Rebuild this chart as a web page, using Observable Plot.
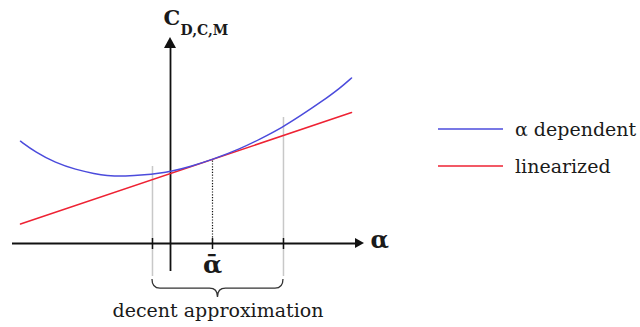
<!DOCTYPE html>
<html>
<head>
<meta charset="utf-8">
<script src="https://cdn.jsdelivr.net/npm/d3@7"></script>
<script src="https://cdn.jsdelivr.net/npm/@observablehq/plot@0.6"></script>
<style>
  html, body { margin: 0; padding: 0; background: #fff; }
  #wrap { position: relative; width: 640px; height: 327px; }
  #legend { position: absolute; left: 438px; top: 110px; font-family: "DejaVu Serif", serif; font-size: 19px; color: #1a1a1a; }
  .item { display: flex; align-items: center; height: 37px; }
  .swatch { display: block; margin-right: 12px; }
</style>
</head>
<body>
<div id="wrap"></div>
<script>
// Angle of attack α (ᾱ = 1) and coefficient C on arbitrary units
const alphaBlue = [-3.571, -3.214, -2.738, -2.262, -1.786, -1.548, -1.071, -0.595, -0.286, 0, 0.476, 1.0, 1.667, 2.143, 2.667, 3.095, 3.571, 4.048, 4.31];
const cBlue     = [2.923, 2.609, 2.306, 2.114, 1.991, 1.94, 1.914, 1.963, 2.009, 2.057, 2.2, 2.4, 2.71, 2.99, 3.32, 3.65, 4.03, 4.45, 4.73];

// Linearization about ᾱ
const alphaRed = [-3.571, 4.31];
const cRed     = [0.557, 3.743];

const alphaBar = 1;
const cAtBar = 2.4;

// Range of α where the linear model is a decent approximation
const approxBounds = [-0.429, 2.69];
const boundTops = [2.2, 3.6];
const boundBottom = -0.943;

// Axis extents: [start, arrow base, arrow tip]
const xAxisSpan = [-3.762, 4.405, 4.619];
const yAxisSpan = [-0.8, 5.571, 5.886];
const tickMarks = [-0.429, 1, 2.69];
const tickExtent = [0.143, -0.171];

// Brace levels below the axis
const braceLevels = [-1.03, -1.29, -1.54];

const labels = {
  xName: "α",
  yName: "C",
  ySub: "D,C,M",
  bar: "ᾱ",
  range: "decent approximation",
  blue: "α dependent",
  red: "linearized"
};

const blueColor = "#4b4bdc";
const redColor = "#ee2233";

const blueData = alphaBlue.map((a, i) => ({a, c: cBlue[i]}));
const redData = alphaRed.map((a, i) => ({a, c: cRed[i]}));

const serif = "DejaVu Serif";
const ink = "#1a1a1a";

function arrowHeads(index, {x, y}) {
  const g = d3.create("svg:g").attr("fill", "#111");
  const y0 = y(0), x0 = x(0);
  const xb = x(xAxisSpan[1]), xt = x(xAxisSpan[2]);
  g.append("path").attr("d", `M${xb},${y0 - 5}L${xt},${y0}L${xb},${y0 + 5}Z`);
  const yb = y(yAxisSpan[1]), yt = y(yAxisSpan[2]);
  g.append("path").attr("d", `M${x0 - 6},${yb}L${x0},${yt}L${x0 + 6},${yb}Z`);
  return g.node();
}

function brace(index, {x, y}) {
  const xl = x(approxBounds[0]), xr = x(approxBounds[1]), xm = (xl + xr) / 2;
  const y0 = y(braceLevels[0]), y1 = y(braceLevels[1]), y2 = y(braceLevels[2]);
  const r = 8;
  const d = `M${xl},${y0}Q${xl},${y1} ${xl + r},${y1}L${xm - r},${y1}Q${xm},${y1} ${xm},${y2}` +
            `Q${xm},${y1} ${xm + r},${y1}L${xr - r},${y1}Q${xr},${y1} ${xr},${y0}`;
  return d3.create("svg:path").attr("d", d).attr("fill", "none")
    .attr("stroke", "#333").attr("stroke-width", 1.3).node();
}

const chart = Plot.plot({
  width: 640,
  height: 327,
  margin: 0,
  x: {domain: [-170 / 42, 470 / 42], axis: null},
  y: {domain: [-84 / 35, 243 / 35], axis: null},
  marks: [
    // bounds of the approximation range
    Plot.ruleX(approxBounds, {x: d => d, y1: boundBottom, y2: (d, i) => boundTops[i], stroke: "#c8c8c8", strokeWidth: 1.5}),
    // dotted drop line at ᾱ
    Plot.ruleX([alphaBar], {x: d => d, y1: 0, y2: cAtBar, stroke: "#111", strokeWidth: 1.2, strokeDasharray: "1.2,1.6"}),
    // axes
    Plot.ruleY([0], {x1: xAxisSpan[0], x2: xAxisSpan[1], stroke: "#111", strokeWidth: 1.8}),
    Plot.ruleX([0], {y1: yAxisSpan[0], y2: yAxisSpan[1], stroke: "#111", strokeWidth: 1.8}),
    Plot.ruleX(tickMarks, {x: d => d, y1: tickExtent[0], y2: tickExtent[1], stroke: "#111", strokeWidth: 1.5}),
    arrowHeads,
    // curves
    Plot.line(redData, {x: "a", y: "c", stroke: redColor, strokeWidth: 1.5}),
    Plot.line(blueData, {x: "a", y: "c", stroke: blueColor, strokeWidth: 1.5, curve: "basis"}),
    brace,
    // labels
    Plot.text([labels.xName], {x: 4.762, y: 0, text: d => d, textAnchor: "start", lineAnchor: "middle", dy: -3, fontFamily: serif, fontWeight: "bold", fontSize: 24, fill: ink}),
    Plot.text([labels.yName], {x: -0.167, y: 6.23, text: d => d, textAnchor: "start", lineAnchor: "bottom", fontFamily: serif, fontWeight: "bold", fontSize: 21, fill: ink}),
    Plot.text([labels.ySub], {x: 0.238, y: 5.97, text: d => d, textAnchor: "start", lineAnchor: "bottom", fontFamily: serif, fontWeight: "bold", fontSize: 14, fill: ink}),
    Plot.text([labels.bar], {x: alphaBar, y: -0.6, text: d => d, textAnchor: "middle", lineAnchor: "middle", fontFamily: serif, fontWeight: "bold", fontSize: 25, fill: ink}),
    Plot.text([labels.range], {x: (approxBounds[0] + approxBounds[1]) / 2, y: -2.1, text: d => d, textAnchor: "middle", lineAnchor: "bottom", fontFamily: serif, fontSize: 19, fill: ink})
  ]
});

const wrap = document.getElementById("wrap");
wrap.appendChild(chart);

// Legend: a short line sample followed by the series name
const legend = document.createElement("div");
legend.id = "legend";
[[labels.blue, blueColor], [labels.red, redColor]].forEach(([t, c]) => {
  const item = document.createElement("div");
  item.className = "item";
  const sw = d3.create("svg").attr("class", "swatch").attr("width", 65).attr("height", 4);
  sw.append("line").attr("x1", 0).attr("x2", 65).attr("y1", 2).attr("y2", 2)
    .attr("stroke", c).attr("stroke-width", 1.5);
  const tx = document.createElement("span");
  tx.textContent = t;
  item.append(sw.node(), tx);
  legend.appendChild(item);
});
wrap.appendChild(legend);
</script>
</body>
</html>
